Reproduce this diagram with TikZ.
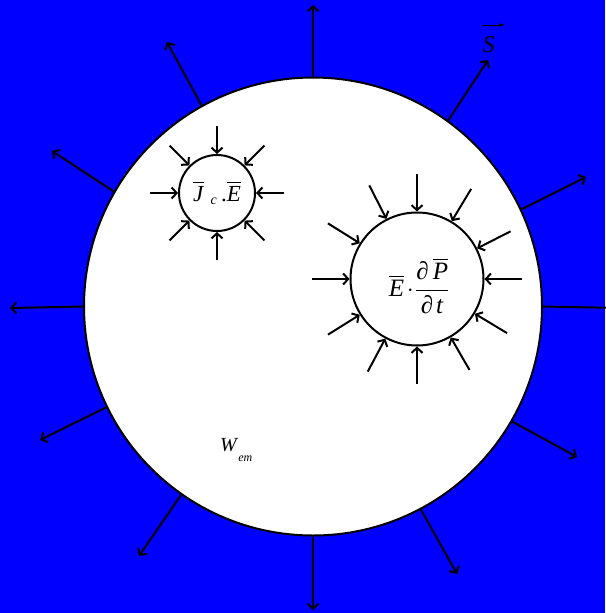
\documentclass[tikz,border=0pt]{standalone}
\usepackage{fontspec}
\setmainfont{Liberation Serif}
\usepackage{amsmath}
\usetikzlibrary{arrows.meta}
\begin{document}
\begin{tikzpicture}[x=1pt,y=-1pt,
  flux/.style={line width=2pt,-{Straight Barb[length=5pt,width=11pt,line width=2pt]}},
  ring/.style={circle,draw,line width=2pt,fill=white,inner sep=0pt},
  eq/.style={font=\fontsize{23}{27}\selectfont,inner sep=0pt},
  eqbig/.style={font=\fontsize{25}{29}\selectfont,inner sep=0pt}]
\fill[blue] (0,0) rectangle (605,613);
\useasboundingbox (0,0) rectangle (605,613);
% big circle
\node[ring,minimum size=458pt] (big) at (313,306.5) {};
\foreach \a/\x/\y in {90/313/5,119/167/42,150/52/151,180/10/308,206/40/440,235/139/556,
                      270/313/610,298/457/574,330/577/457,0/620/308,25/586/177,54/488/60}{
  \coordinate (out\a) at (\x,\y);
  \draw[flux] (big.\a) -- (out\a);
}
% small circle: J_c . E
\node[ring,minimum size=76pt] (jc) at (217,193) {};
\node[eq] (jctext) at (217,193)
  {$\overline{\hbox{\textit{J}}}\,_{\hbox{\fontsize{14}{16}\selectfont\,\textit{c}}}\hbox{\,.}\overline{\hbox{\textit{E}}}$};
\foreach \a in {0,45,...,315}{
  \path (jc.center) ++(-\a:67) coordinate (jcin\a);
  \draw[flux] (jcin\a) -- (jc.\a);
}
% circle: E . dP/dt
\node[ring,minimum size=133pt] (ep) at (417,279) {};
\node[eqbig] (eptext) at (419,286)
  {$\overline{\hbox{\textit{E}}}\mkern2mu{\cdot}\mkern1mu\dfrac{\hbox{∂}\,\overline{\hbox{\textit{P}}}}{\hbox{∂}\mkern2mu\hbox{\textit{t}}}$};
\foreach \a in {0,27,59,90,117,148,180,212,242,270,300,329}{
  \path (ep.center) ++(-\a:105) coordinate (epin\a);
  \draw[flux] (epin\a) -- (ep.\a);
}
% labels
\node[inner sep=0pt,anchor=base west] (wem) at (220,451)
  {\fontsize{20}{22}\selectfont\textit{W}\raisebox{-10pt}{\fontsize{12}{14}\selectfont\textit{em}}};
\node[inner sep=0pt,font=\fontsize{24}{28}\selectfont] (S) at (488.5,44.5) {\textit{S}};
\coordinate (sa) at (482,25);
\coordinate (sb) at (505,25);
\draw[line width=0.8pt,-{Latex[length=6pt,width=4pt]}] (sa) -- (sb);
\end{tikzpicture}
\end{document}
